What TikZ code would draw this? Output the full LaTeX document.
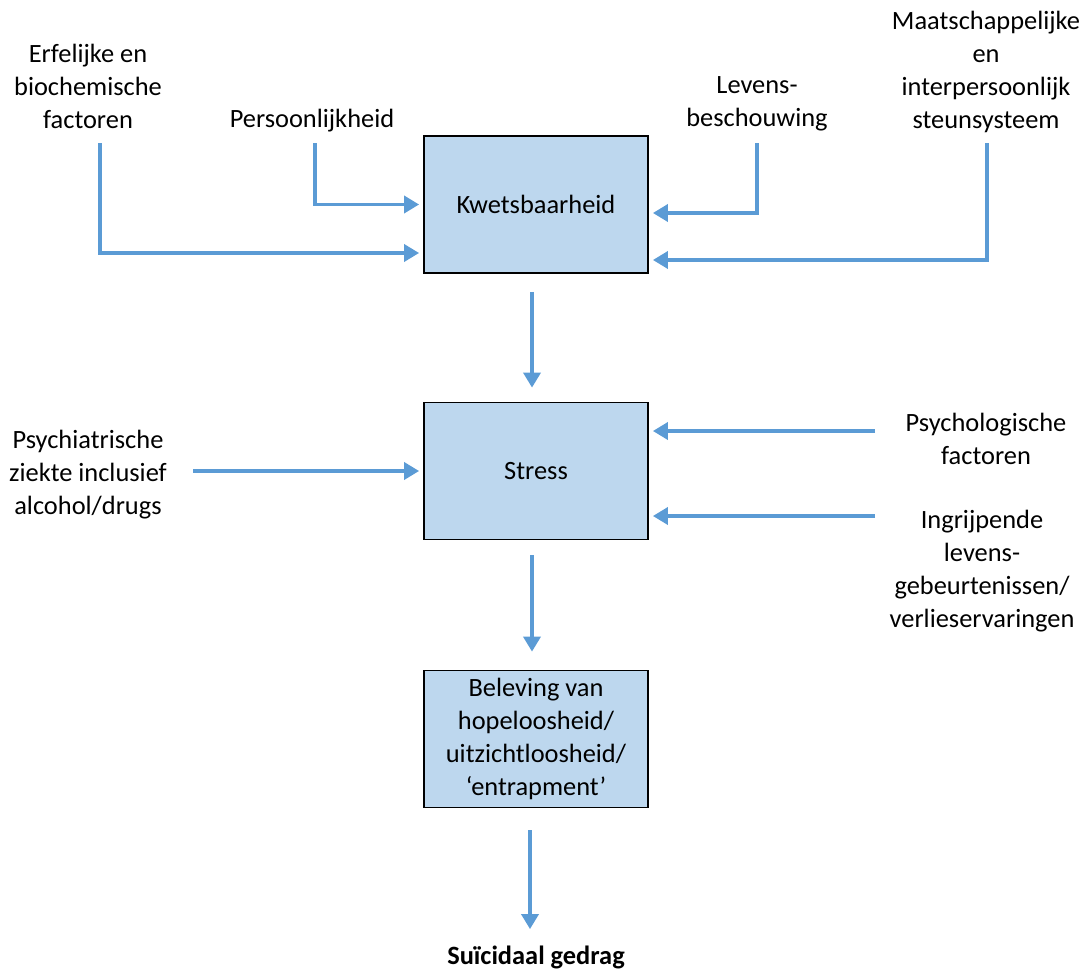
\documentclass[tikz,border=0pt]{standalone}
\usepackage{fontspec}
\setmainfont{Carlito}
\usetikzlibrary{arrows.meta}
\definecolor{arrowblue}{HTML}{5B9BD5}
\definecolor{boxblue}{HTML}{BDD7EE}
\tikzset{
  lbl/.style={align=center,inner sep=0pt,font=\fontsize{13.2}{16.5}\selectfont},
  blok/.style={lbl,draw=black,line width=0.9pt,fill=boxblue,
               minimum width=112pt,minimum height=68.5pt},
  pijl/.style={draw=arrowblue,line width=1.75pt,
               -{Triangle[length=7.5pt,width=8.5pt]},shorten >=2pt},
}
\begin{document}
\begin{tikzpicture}[x=0.5pt,y=-0.5pt]
  \useasboundingbox (0,0) rectangle (1081,974);
  % the three boxes
  \node[blok]   (kwets)   at (536,204.5) {Kwetsbaarheid};
  \node[blok]   (stress)  at (536,471)   {Stress};
  \node[blok]   (bel)     at (536,739)   {Beleving van\\hopeloosheid/\\uitzichtloosheid/\\`entrapment'};
  \node[lbl,font=\fontsize{13.2}{16.5}\selectfont\bfseries]
                (suic)    at (536,957)   {Suïcidaal gedrag};
  % factors
  \node[lbl]    (erf)     at (88,86)     {Erfelijke en\\biochemische\\factoren};
  \node[lbl]    (pers)    at (312,121)   {Persoonlijkheid};
  \node[lbl]    (lev)     at (757,104)   {Levens-\\beschouwing};
  \node[lbl]    (maat)    at (986,71.5)  {Maatschappelijke\\en\\interpersoonlijk\\steunsysteem};
  \node[lbl]    (psych)   at (88,475)    {Psychiatrische\\ziekte inclusief\\alcohol/drugs};
  \node[lbl]    (psyfac)  at (986,439)   {Psychologische\\factoren};
  \node[lbl]    (ingr)    at (982,571)   {Ingrijpende\\levens-\\gebeurtenissen/\\verlieservaringen};
  % tails of the connectors
  \coordinate   (erfT)    at (100,143);
  \coordinate   (persT)   at (315,143);
  \coordinate   (levT)    at (757,143);
  \coordinate   (maatT)   at (987,143);
  \coordinate   (psychT)  at (193,471);
  \coordinate   (psyfacT) at (875,431);
  \coordinate   (ingrT)   at (875,516);
  \begin{scope}[every path/.style={pijl}]
     \draw (erfT)    |- ([yshift=-24.25pt]kwets.west);
     \draw (persT)   |- (kwets.west);
     \draw (levT)    |- ([yshift=-4.25pt]kwets.east);
     \draw (maatT)   |- ([yshift=-27.75pt]kwets.east);
     \draw (psychT)  -- (stress.west);
     \draw (psyfacT) -- ([yshift=20pt]stress.east);
     \draw (ingrT)   -- ([yshift=-22.5pt]stress.east);
     \draw[shorten <=9pt,shorten >=7pt]   ([xshift=-2pt]kwets.south)  -- ([xshift=-2pt]stress.north);
     \draw[shorten <=7.5pt,shorten >=9pt] ([xshift=-2pt]stress.south) -- ([xshift=-2pt]bel.north);
     \draw[shorten <=11pt,shorten >=8pt]  ([xshift=-3pt]bel.south)    -- ([xshift=-3pt]suic.north);
  \end{scope}
\end{tikzpicture}
\end{document}
